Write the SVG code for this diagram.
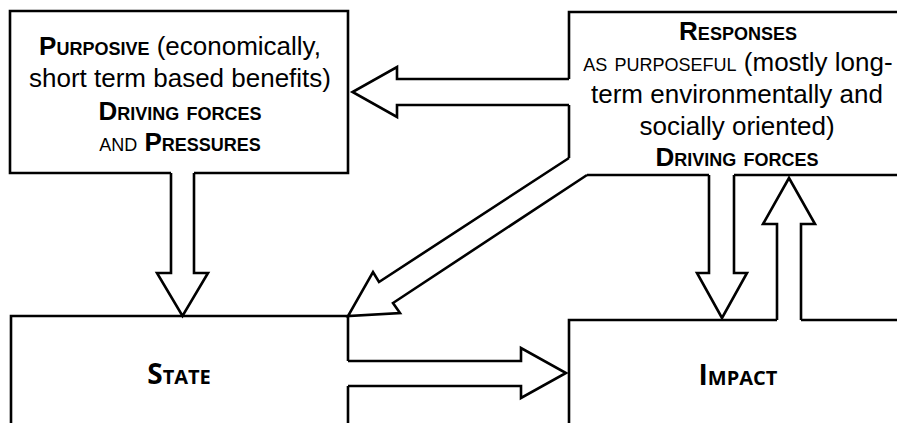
<svg xmlns="http://www.w3.org/2000/svg" width="897" height="423" viewBox="0 0 897 423">
<style>
.ln{fill:none;stroke:#000;stroke-width:2.6;stroke-linejoin:miter;stroke-miterlimit:10}
.ar{fill:#fff;stroke:#000;stroke-width:2.6;stroke-linejoin:miter;stroke-miterlimit:10}
.t{font-family:"Liberation Sans",Arial,sans-serif;font-size:26px;fill:#000;text-anchor:middle}
.sc{font-variant:small-caps}
.b{font-weight:bold}
.big{font-family:"Open Sans","DejaVu Sans",sans-serif;font-size:28px;font-weight:bold;font-variant:small-caps;fill:#000;text-anchor:middle}
</style>
<rect width="897" height="423" fill="#fff"/>
<g id="connectors">
<path class="ar" d="M171,173 V273 H157 L182.5,316 L208,273 H194 V173"/>
<path class="ar" d="M569,79 H397 V67 L352.5,92 L397,117 V105 H569"/>
<path class="ar" d="M569,158 L379,282 L373,272 L348,316 L400,313 L393,303 L587,175"/>
<path class="ar" d="M348,361 H521 V348 L566,373 L521,398 V386 H348"/>
<path class="ar" d="M709,175 V273 H697 L722,318 L747,273 H734 V175"/>
<path class="ar" d="M777,320 V224 H763 L789,178 L815,224 H801 V320"/>
</g>
<g id="purposive">
<path class="ln" d="M171,173 H10 V11 H348 V173 H194"/>
<text class="t" x="180" y="55"><tspan class="sc b">Purposive</tspan> (economically,</text>
<text class="t" x="180" y="87">short term based benefits)</text>
<text class="t sc b" x="180" y="120">Driving forces</text>
<text class="t" x="180" y="151"><tspan class="sc">and </tspan><tspan class="sc b">Pressures</tspan></text>
</g>
<g id="responses">
<path class="ln" d="M569,79 V12 H899"/>
<path class="ln" d="M569,105 V158"/>
<path class="ln" d="M587,175 H709 M734,175 H899"/>
<text class="t sc b" x="738" y="40">Responses</text>
<text class="t" x="738" y="71"><tspan class="sc">as purposeful </tspan>(mostly long-</text>
<text class="t" x="737" y="103">term environmentally and</text>
<text class="t" x="737" y="135">socially oriented)</text>
<text class="t sc b" x="737" y="166">Driving forces</text>
</g>
<g id="state">
<path class="ln" d="M11,425 V316 H348 V361 M348,386 V425"/>
<text class="big" x="179" y="384">State</text>
</g>
<g id="impact">
<path class="ln" d="M569,425 V320 H777 M801,320 H899"/>
<text class="big" x="738" y="385">Impact</text>
</g>
</svg>
